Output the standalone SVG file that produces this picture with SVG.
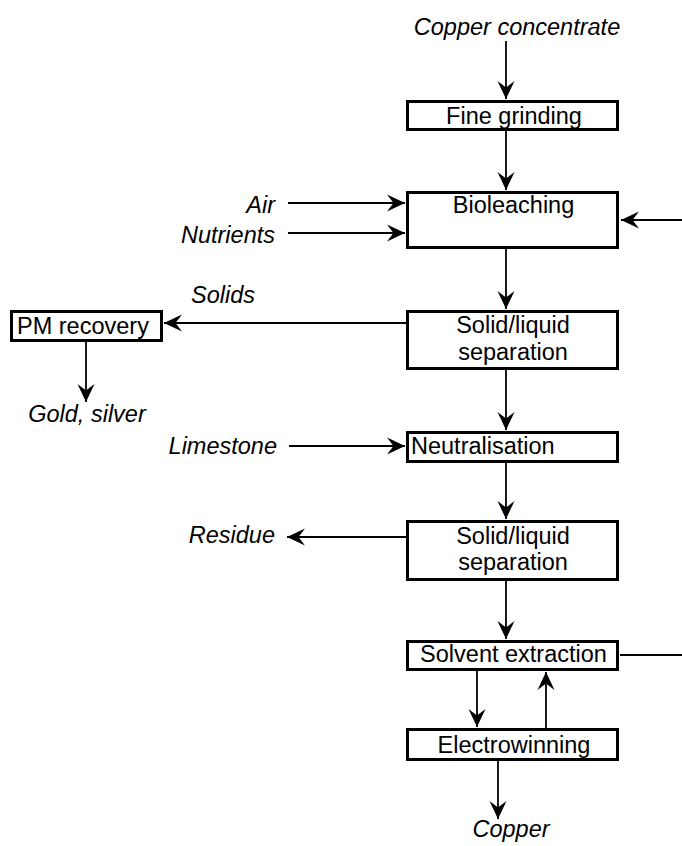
<svg xmlns="http://www.w3.org/2000/svg" width="682" height="846" viewBox="0 0 682 846">
  <style>
    .box { fill: #ffffff; stroke: #000000; stroke-width: 3; }
    .lbl { font-family: "Liberation Sans", Arial, sans-serif; font-size: 23.5px; fill: #000000; }
    .mid { text-anchor: middle; }
    .end { text-anchor: end; }
    .it { font-style: italic; }
    .flow { fill: none; stroke: #000000; stroke-width: 1.8; }
    .arrow { marker-end: url(#head); }
  </style>
  <defs>
    <marker id="head" markerUnits="userSpaceOnUse" markerWidth="20" markerHeight="20" viewBox="-19 -10 20 20" refX="0" refY="0" orient="auto" overflow="visible">
      <path d="M0,0 L-18,-8.5 L-11.5,0 L-18,8.5 Z" fill="#000000"/>
    </marker>
  </defs>

  <rect width="682" height="846" fill="#ffffff"/>

  <!-- stream labels -->
  <g id="labels">
    <text class="lbl it mid" x="517" y="35">Copper concentrate</text>
    <text class="lbl it end" x="275" y="213">Air</text>
    <text class="lbl it end" x="275" y="243">Nutrients</text>
    <text class="lbl it" x="191" y="303">Solids</text>
    <text class="lbl it mid" x="87" y="422">Gold, silver</text>
    <text class="lbl it end" x="277" y="454">Limestone</text>
    <text class="lbl it end" x="275" y="543">Residue</text>
    <text class="lbl it mid" x="511" y="837">Copper</text>
  </g>

  <!-- process units -->
  <g id="fine-grinding">
    <rect class="box" x="407.5" y="101.5" width="210" height="28"/>
    <text class="lbl mid" x="514" y="124">Fine grinding</text>
  </g>
  <g id="bioleaching">
    <rect class="box" x="407.5" y="192.5" width="210" height="55"/>
    <text class="lbl mid" x="513.5" y="213">Bioleaching</text>
  </g>
  <g id="separation-1">
    <rect class="box" x="407.5" y="311.5" width="210" height="57"/>
    <text class="lbl mid" x="513" y="333">Solid/liquid</text>
    <text class="lbl mid" x="513" y="360">separation</text>
  </g>
  <g id="pm-recovery">
    <rect class="box" x="11.5" y="311.5" width="150" height="29"/>
    <text class="lbl" x="17" y="334">PM recovery</text>
  </g>
  <g id="neutralisation">
    <rect class="box" x="407.5" y="432.5" width="210" height="29"/>
    <text class="lbl" x="411" y="454">Neutralisation</text>
  </g>
  <g id="separation-2">
    <rect class="box" x="407.5" y="521.5" width="210" height="58"/>
    <text class="lbl mid" x="513" y="544">Solid/liquid</text>
    <text class="lbl mid" x="513" y="570">separation</text>
  </g>
  <g id="solvent-extraction">
    <rect class="box" x="407.5" y="641.5" width="210" height="28"/>
    <text class="lbl mid" x="513.5" y="662">Solvent extraction</text>
  </g>
  <g id="electrowinning">
    <rect class="box" x="407.5" y="729.5" width="210" height="30"/>
    <text class="lbl mid" x="514" y="753">Electrowinning</text>
  </g>

  <!-- connectors -->
  <g id="connectors">
    <line class="flow arrow" x1="506" y1="41" x2="506" y2="99"/>
    <line class="flow arrow" x1="506" y1="131" x2="506" y2="190"/>
    <line class="flow arrow" x1="288" y1="203" x2="405" y2="203"/>
    <line class="flow arrow" x1="288" y1="233" x2="405" y2="233"/>
    <line class="flow arrow" x1="682" y1="220" x2="621" y2="220"/>
    <line class="flow arrow" x1="506" y1="249" x2="506" y2="309"/>
    <line class="flow arrow" x1="406" y1="323" x2="164" y2="323"/>
    <line class="flow arrow" x1="86" y1="342" x2="86" y2="402"/>
    <line class="flow arrow" x1="506" y1="370" x2="506" y2="430"/>
    <line class="flow arrow" x1="289" y1="446" x2="405" y2="446"/>
    <line class="flow arrow" x1="506" y1="463" x2="506" y2="519"/>
    <line class="flow arrow" x1="406" y1="537" x2="287" y2="537"/>
    <line class="flow arrow" x1="506" y1="581" x2="506" y2="639"/>
    <line class="flow" x1="620" y1="655" x2="682" y2="655"/>
    <line class="flow arrow" x1="477" y1="671" x2="477" y2="727"/>
    <line class="flow arrow" x1="546" y1="728" x2="546" y2="672"/>
    <line class="flow arrow" x1="498" y1="761" x2="498" y2="819"/>
  </g>
</svg>
